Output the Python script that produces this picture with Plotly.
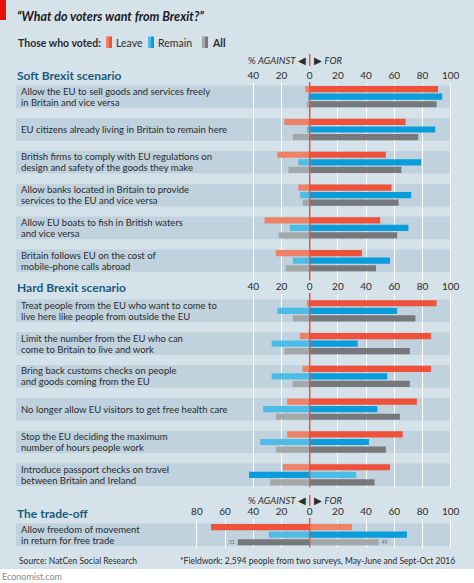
import plotly.graph_objects as go

W, H = 474, 583

# ---------------- data ----------------
soft_labels = [
    "Allow the EU to sell goods and services freely<br>in Britain and vice versa",
    "EU citizens already living in Britain to remain here",
    "British firms to comply with EU regulations on<br>design and safety of the goods they make",
    "Allow banks located in Britain to provide<br>services to the EU and vice versa",
    "Allow EU boats to fish in British waters<br>and vice versa",
    "Britain follows EU on the cost of<br>mobile-phone calls abroad",
]
soft_leave_against = [3, 18, 23, 8, 32, 24]
soft_leave_for = [91, 68, 54, 58, 50, 37]
soft_remain_against = [1, 2, 8, 7, 14, 12]
soft_remain_for = [94, 89, 79, 72, 70, 57]
soft_all_against = [2, 12, 15, 5, 22, 17]
soft_all_for = [90, 77, 65, 63, 62, 47]

hard_labels = [
    "Treat people from the EU who want to come to<br>live here like people from outside the EU",
    "Limit the number from the EU who can<br>come to Britain to live and work",
    "Bring back customs checks on people<br>and goods coming from the EU",
    "No longer allow EU visitors to get free health care",
    "Stop the EU deciding the maximum<br>number of hours people work",
    "Introduce passport checks on travel<br>between Britain and Ireland",
]
hard_leave_against = [2, 7, 5, 16, 16, 19]
hard_leave_for = [90, 86, 86, 76, 66, 57]
hard_remain_against = [23, 27, 27, 33, 35, 43]
hard_remain_for = [62, 34, 55, 48, 42, 33]
hard_all_against = [12, 18, 12, 24, 24, 28]
hard_all_for = [75, 71, 71, 64, 54, 46]

trade_labels = ["Allow freedom of movement<br>in return for free trade"]
trade_leave_against = [70]
trade_leave_for = [30]
trade_remain_against = [29]
trade_remain_for = [69]
trade_all_against = [51]
trade_all_for = [49]

section_ticks = [-40, -20, 0, 20, 40, 60, 80, 100]
trade_ticks = [-80, -60, -40, -20, 0, 20, 40, 60, 80, 100]

# ---------------- style ----------------
FONT = "Lato, Roboto, Liberation Sans, sans-serif"
BG = "#d5e2ea"
BAND = "#bfd2de"
TXT = "#2b2b2b"
HEAD = "#1b5a7d"
ZERO_RED = "#e0564c"
COLORS = {
    "Leave": ("#f0513a", "#ef8266"),
    "Remain": ("#0a9ddb", "#4dbde8"),
    "All": ("#76787b", "#a5a8ab"),
}

# pixel geometry
ZERO_PX = 309.7
PX_PER_UNIT = 1.41
XMIN = -ZERO_PX / PX_PER_UNIT
XMAX = (W - ZERO_PX) / PX_PER_UNIT
PITCH = 32.8


def px_y(p):
    return 1 - p / H


def px_x(p):
    return p / W


def data_x(p):
    return (p - ZERO_PX) / PX_PER_UNIT


sections = [
    dict(name="Soft Brexit scenario", labels=soft_labels,
         vals={"Leave": (soft_leave_against, soft_leave_for),
               "Remain": (soft_remain_against, soft_remain_for),
               "All": (soft_all_against, soft_all_for)},
         T=83, B=281, c0=96.7, ticks=section_ticks, head_y=75),
    dict(name="Hard Brexit scenario", labels=hard_labels,
         vals={"Leave": (hard_leave_against, hard_leave_for),
               "Remain": (hard_remain_against, hard_remain_for),
               "All": (hard_all_against, hard_all_for)},
         T=294, B=488, c0=310.8, ticks=section_ticks, head_y=287),
    dict(name="The trade-off", labels=trade_labels,
         vals={"Leave": (trade_leave_against, trade_leave_for),
               "Remain": (trade_remain_against, trade_remain_for),
               "All": (trade_all_against, trade_all_for)},
         T=519, B=548, c0=534.7, ticks=trade_ticks, head_y=513),
]

fig = go.Figure()
shapes = []
annotations = []

# background panel and logo block
shapes.append(dict(type="rect", xref="paper", yref="paper", x0=0, x1=1,
                   y0=px_y(569), y1=1, fillcolor=BG, line_width=0, layer="below"))
shapes.append(dict(type="rect", xref="paper", yref="paper", x0=0, x1=px_x(6),
                   y0=px_y(20), y1=1, fillcolor="#e3120b", line_width=0, layer="above"))

layout_axes = {}
for i, sec in enumerate(sections, start=1):
    xa = "x" if i == 1 else f"x{i}"
    ya = "y" if i == 1 else f"y{i}"
    top_val = -(sec["c0"] - sec["T"]) / PITCH
    bot_val = (sec["B"] - sec["c0"]) / PITCH
    # bars
    for g in ["Leave", "Remain", "All"]:
        against, forv = sec["vals"][g]
        dark, light = COLORS[g]
        ag_colors = [dark if a > f else light for a, f in zip(against, forv)]
        fo_colors = [dark if f >= a else light for a, f in zip(against, forv)]
        txt_a = txt_f = None
        if sec["name"] == "The trade-off" and g == "All":
            txt_a = [str(a) for a in against]
            txt_f = [str(f) for f in forv]
        fig.add_trace(go.Bar(
            x=[-a for a in against], y=sec["labels"], orientation="h",
            marker=dict(color=ag_colors, line_width=0), offsetgroup=g,
            xaxis=xa, yaxis=ya, showlegend=False, hoverinfo="skip",
            text=txt_a, textposition="outside" if txt_a else None,
            textfont=dict(family=FONT, size=9, color="#666666"),
            cliponaxis=False))
        fig.add_trace(go.Bar(
            x=forv, y=sec["labels"], orientation="h",
            marker=dict(color=fo_colors, line_width=0), offsetgroup=g,
            xaxis=xa, yaxis=ya, showlegend=False, hoverinfo="skip",
            text=txt_f, textposition="outside" if txt_f else None,
            textfont=dict(family=FONT, size=9, color="#666666"),
            cliponaxis=False))
    # row bands and labels
    for k, lab in enumerate(sec["labels"]):
        shapes.append(dict(type="rect", xref=xa, yref=ya,
                           x0=data_x(16), x1=99.4, y0=k - 0.345, y1=k + 0.345,
                           fillcolor=BAND, line_width=0, layer="below"))
        lines = lab.split("<br>")
        shifts = [0] if len(lines) == 1 else [5.5, -5.5]
        for line, sh in zip(lines, shifts):
            annotations.append(dict(text=line, xref="paper", yref=ya, x=px_x(19), y=lab,
                                    xanchor="left", yanchor="middle", yshift=sh, showarrow=False,
                                    font=dict(family=FONT, size=9.5, color=TXT)))
    # zero line
    shapes.append(dict(type="line", xref=xa, yref="paper", x0=0, x1=0,
                       y0=px_y(sec["B"] - 0.5), y1=px_y(sec["T"] - 1),
                       line=dict(color=ZERO_RED, width=1.5), layer="above"))
    # section header
    annotations.append(dict(text=f"<b>{sec['name']}</b>", xref="paper", yref="paper",
                            x=px_x(15), y=px_y(sec["head_y"]), xanchor="left", yanchor="middle",
                            showarrow=False, font=dict(family=FONT, size=12, color=HEAD)))
    ticks = sec["ticks"]
    layout_axes[("xaxis" if i == 1 else f"xaxis{i}")] = dict(
        range=[XMIN, XMAX], domain=[0, 1], anchor=ya, side="top",
        tickvals=ticks, ticktext=[str(abs(t)) for t in ticks],
        showgrid=True, gridcolor="white", gridwidth=1.3, zeroline=False,
        ticks="", showline=False, ticklabelstandoff=1,
        tickfont=dict(family=FONT, size=10, color=TXT), fixedrange=True)
    layout_axes[("yaxis" if i == 1 else f"yaxis{i}")] = dict(
        type="category", categoryorder="array", categoryarray=sec["labels"],
        range=[bot_val, top_val], domain=[px_y(sec["B"]), px_y(sec["T"])],
        anchor=xa, showgrid=False, showticklabels=False, zeroline=False,
        showline=False, fixedrange=True)

# red line through the "against/for" captions
for y0p, y1p in [(54, 66), (495, 506)]:
    shapes.append(dict(type="line", xref="x", yref="paper", x0=0, x1=0,
                       y0=px_y(y1p), y1=px_y(y0p), line=dict(color=ZERO_RED, width=1.5)))
for yc in [60, 500]:
    annotations.append(dict(text="% <i>AGAINST</i> ◀", xref="paper", yref="paper",
                            x=px_x(307.5), y=px_y(yc), xanchor="right", yanchor="middle",
                            showarrow=False, font=dict(family=FONT, size=9.5, color=TXT)))
    annotations.append(dict(text="▶ <i>FOR</i>", xref="paper", yref="paper",
                            x=px_x(312), y=px_y(yc), xanchor="left", yanchor="middle",
                            showarrow=False, font=dict(family=FONT, size=9.5, color=TXT)))

# title
annotations.append(dict(text="<b><i>“What do voters want from Brexit?”</i></b>", xref="paper",
                        yref="paper", x=px_x(15), y=px_y(16), xanchor="left", yanchor="middle",
                        showarrow=False, font=dict(family=FONT, size=12.5, color="#1a1a1a")))
# legend line
annotations.append(dict(text="<b>Those who voted:</b>", xref="paper", yref="paper",
                        x=px_x(15.5), y=px_y(42.5), xanchor="left", yanchor="middle",
                        showarrow=False, font=dict(family=FONT, size=10.5, color=TXT)))
legend_items = [("Leave", 106, "Leave"), ("Remain", 148, "Remain"), ("All", 202, "<b>All</b>")]
for g, sx, label in legend_items:
    dark, light = COLORS[g]
    shapes.append(dict(type="rect", xref="paper", yref="paper", x0=px_x(sx), x1=px_x(sx + 3),
                       y0=px_y(48), y1=px_y(36.5), fillcolor=light, line_width=0))
    shapes.append(dict(type="rect", xref="paper", yref="paper", x0=px_x(sx + 3), x1=px_x(sx + 6),
                       y0=px_y(48), y1=px_y(36.5), fillcolor=dark, line_width=0))
    annotations.append(dict(text=label, xref="paper", yref="paper", x=px_x(sx + 8),
                            y=px_y(42.5), xanchor="left", yanchor="middle", showarrow=False,
                            font=dict(family=FONT, size=10.5, color=TXT)))

# footer
annotations.append(dict(text="Source: NatCen Social Research", xref="paper", yref="paper",
                        x=px_x(16.5), y=px_y(560.5), xanchor="left", yanchor="middle",
                        showarrow=False, font=dict(family=FONT, size=8.5, color=TXT)))
annotations.append(dict(text="*Fieldwork: 2,594 people from two surveys, May-June and Sept-Oct 2016",
                        xref="paper", yref="paper", x=px_x(456.5), y=px_y(560.5), xanchor="right",
                        yanchor="middle", showarrow=False, font=dict(family=FONT, size=8.5, color=TXT)))
annotations.append(dict(text="Economist.com", xref="paper", yref="paper", x=0, y=px_y(576),
                        xanchor="left", yanchor="middle", showarrow=False,
                        font=dict(family=FONT, size=9, color="#8a8a8a")))

fig.update_layout(
    width=W, height=H, margin=dict(l=0, r=0, t=0, b=0),
    paper_bgcolor="white", plot_bgcolor="rgba(0,0,0,0)",
    barmode="group", bargap=0.31, bargroupgap=0.18,
    shapes=shapes, annotations=annotations, showlegend=False,
    font=dict(family=FONT), **layout_axes,
)

fig.write_html("out.html", config={"displayModeBar": False},
               post_script="document.body.style.margin='0';document.body.style.overflow='hidden';")
